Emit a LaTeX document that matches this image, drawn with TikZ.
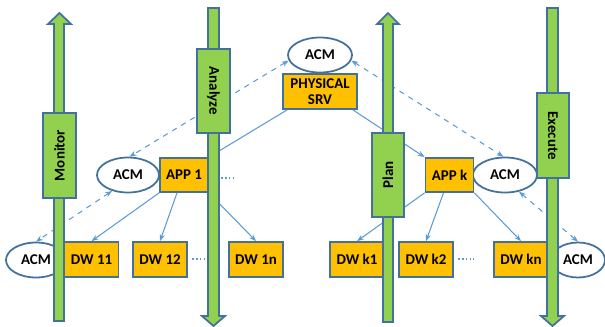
\documentclass[tikz,border=0pt]{standalone}
\usepackage{fontspec}
\setmainfont{Carlito}
\usetikzlibrary{arrows.meta,shapes.geometric}
\definecolor{edgeblue}{HTML}{41719C}
\definecolor{linkblue}{HTML}{5B9BD5}
\definecolor{phasegreen}{HTML}{92D050}
\definecolor{unitorange}{HTML}{FFC000}
\tikzset{
  unit/.style={draw=edgeblue, line width=1pt, fill=unitorange, minimum width=1.08cm, minimum height=0.7cm, inner sep=1pt, font=\fontsize{8.5}{9.5}\selectfont\bfseries, align=center},
  acm/.style={ellipse, draw=edgeblue, line width=1pt, fill=white, minimum width=1.28cm, minimum height=0.7cm, inner sep=0pt, font=\fontsize{8.5}{9.5}\selectfont\bfseries},
  phase/.style={draw=edgeblue, line width=1pt, fill=phasegreen, minimum width=1.7cm, minimum height=0.65cm, inner sep=1pt, font=\fontsize{8.5}{9.5}\selectfont\bfseries},
  shaft/.style={draw=edgeblue, line width=1pt, fill=phasegreen},
  link/.style={draw=linkblue, line width=0.6pt, -{Stealth[length=4pt,width=3pt]}},
  dlink/.style={link, dashed, {Stealth[length=4pt,width=3pt]}-{Stealth[length=4pt,width=3pt]}},
  dots/.style={draw=linkblue, line width=1pt, dash pattern=on 1pt off 1.2pt}
}

\begin{document}
\begin{tikzpicture}[x=0.02cm, y=-0.02cm]
		%%%%% START %%%%%
		\useasboundingbox (0,0) rectangle (605,326);
		
		% autonomic managers
		\node[acm] (acmTop) at (320,55) {ACM};
		\node[acm, minimum width=1.24cm] (acmL) at (128,175) {ACM};
		\node[acm] (acmR) at (505,175) {ACM};
		\node[acm, minimum width=1.2cm] (acmBL) at (36,260) {ACM};
		\node[acm, minimum width=1.08cm] (acmBR) at (578,260) {ACM};
		
		% server, applications and workers
		\node[unit, minimum width=1.48cm] (phys) at (320,91.5) {PHYSICAL\\SRV};
		\node[unit, minimum width=0.96cm, minimum height=0.68cm] (app1) at (184,175) {APP 1};
		\node[unit, minimum width=0.96cm, minimum height=0.68cm] (appk) at (449.5,175) {APP k};
		
		\node[unit] (dw11) at (91.5,259.5) {DW 11};
		\node[unit] (dw12) at (160,259.5) {DW 12};
		\node[unit] (dw1n) at (256,259.5) {DW 1n};
		\node[unit] (dwk1) at (357,259.5) {DW k1};
		\node[unit] (dwk2) at (426,259.5) {DW k2};
		\node[unit] (dwkn) at (521,259.5) {DW kn};
		
		\draw[dots] (221,178) -- (233,178);
		\draw[dots] (192,259) -- (208,259);
		\draw[dots] (458,259) -- (474,259);
		
		% links
		\draw[link] ([shift={(5,0)}]phys.south west) -- (app1.north east);
		\draw[link] ([shift={(-5,0)}]phys.south east) -- (appk.north west);
		\draw[link] (app1.south west) -- (dw11.north);
		\draw[link] ([shift={(-7,0)}]app1.south) -- (dw12.north);
		\draw[link] (app1.south east) -- (dw1n.north);
		\draw[link] (appk.south west) -- (dwk1.north);
		\draw[link] ([shift={(-6,0)}]appk.south) -- (dwk2.north);
		\draw[link] (appk.south east) -- (dwkn.north);
		
		\draw[dlink] (acmTop.190) -- (acmL.85);
		\draw[dlink] (acmTop.-10) -- (acmR.95);
		\draw[dlink] (acmL.225) -- (acmBL.north);
		\draw[dlink] (acmR.-50) -- (acmBR.north);
		
		% MAPE loop
		\draw[shaft] (54,24) -- (48,24) -- (59.5,13) -- (71,24) -- (64,24) -- (64,321) -- (54,321) -- cycle;
		\draw[shaft] (208,8) -- (219,8) -- (219,316) -- (225,316) -- (213.5,326) -- (202,316) -- (208,316) -- cycle;
		\draw[shaft] (383,24) -- (377,24) -- (388,13) -- (399,24) -- (393,24) -- (393,322) -- (383,322) -- cycle;
		\draw[shaft] (547,8) -- (558,8) -- (558,316) -- (564,316) -- (552.5,326) -- (541,316) -- (547,316) -- cycle;
		
		\node[phase, rotate=90] (monitor) at (59.5,155.5) {Monitor};
		\node[phase, rotate=-90, minimum width=1.68cm] (analyze) at (213.5,91) {Analyze};
		\node[phase, rotate=90, minimum width=1.68cm, minimum height=0.64cm] (plan) at (388,175) {Plan};
		\node[phase, rotate=-90, minimum height=0.64cm] (execute) at (553,135.5) {Execute};
		
		%%%%% END %%%%%
\end{tikzpicture}
\end{document}
